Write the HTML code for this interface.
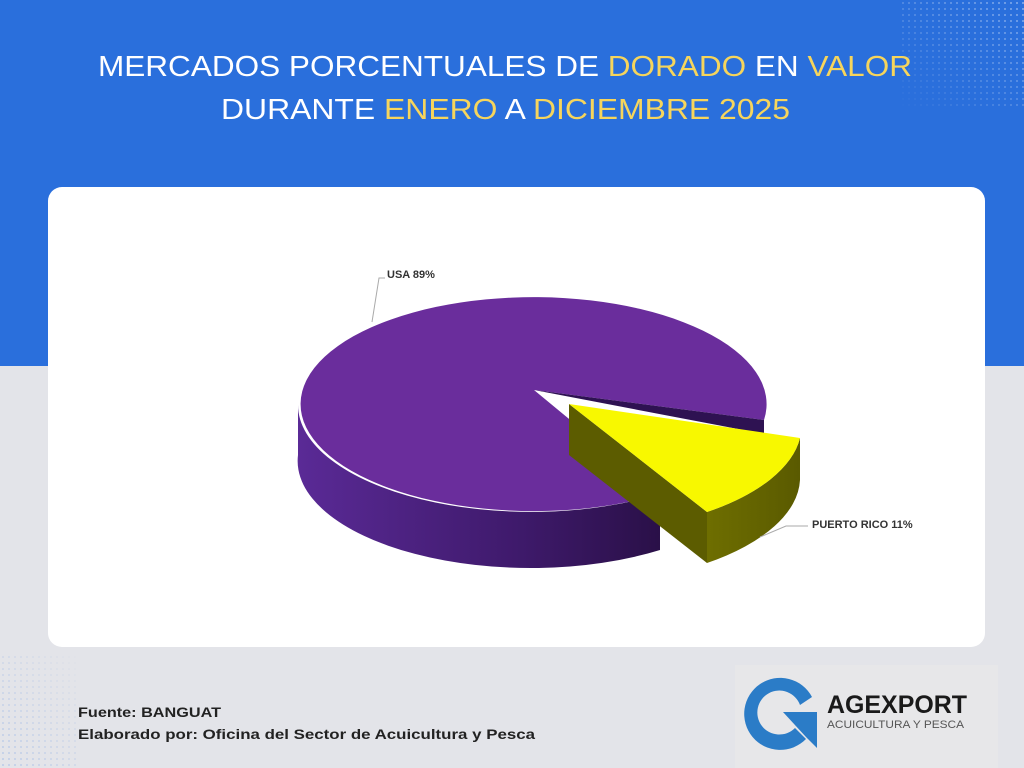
<!DOCTYPE html>
<html><head><meta charset="utf-8"><style>
html,body{margin:0;padding:0;width:1024px;height:768px;overflow:hidden}
svg{display:block}
text{font-family:"Liberation Sans",sans-serif}
</style></head><body>
<svg width="1024" height="768" viewBox="0 0 1024 768" xmlns="http://www.w3.org/2000/svg">
<defs>
<linearGradient id="side" x1="0" x2="1" y1="0" y2="0">
<stop offset="0" stop-color="#5a2a96"/><stop offset="0.6" stop-color="#3f1a6c"/><stop offset="1" stop-color="#2a1048"/>
</linearGradient>
<linearGradient id="yside" x1="0" x2="1"><stop offset="0" stop-color="#6e6e00"/><stop offset="1" stop-color="#5a5a00"/></linearGradient>
<pattern id="dots" width="6" height="6" patternUnits="userSpaceOnUse"><circle cx="3" cy="3" r="1" fill="#ffffff" opacity="0.45"/></pattern>
<pattern id="dots2" width="6" height="6" patternUnits="userSpaceOnUse"><circle cx="3" cy="3" r="1" fill="#8fb0e8" opacity="0.5"/></pattern>
<linearGradient id="fadeTR" x1="1" y1="0" x2="0" y2="1"><stop offset="0" stop-color="#fff"/><stop offset="1" stop-color="#fff" stop-opacity="0"/></linearGradient>
<mask id="mTR"><rect x="900" y="0" width="124" height="110" fill="url(#fadeTR)"/></mask>
<linearGradient id="fadeBL" x1="0" y1="1" x2="1" y2="0"><stop offset="0" stop-color="#fff"/><stop offset="1" stop-color="#fff" stop-opacity="0"/></linearGradient>
<mask id="mBL"><rect x="0" y="655" width="80" height="113" fill="url(#fadeBL)"/></mask>
</defs>
<rect width="1024" height="768" fill="#e3e4e9"/>
<rect width="1024" height="366" fill="#2a6fdc"/>
<rect x="900" y="0" width="124" height="110" fill="url(#dots)" mask="url(#mTR)"/>
<rect x="0" y="655" width="80" height="113" fill="url(#dots2)" mask="url(#mBL)"/>
<text x="98" y="76" font-size="29" fill="#fff" textLength="814" lengthAdjust="spacingAndGlyphs">MERCADOS PORCENTUALES DE <tspan fill="#f6d55c">DORADO</tspan> EN <tspan fill="#f6d55c">VALOR</tspan></text>
<text x="221" y="119" font-size="29" fill="#fff" textLength="569" lengthAdjust="spacingAndGlyphs">DURANTE <tspan fill="#f6d55c">ENERO</tspan> A <tspan fill="#f6d55c">DICIEMBRE 2025</tspan></text>
<rect x="48" y="187" width="937" height="460" rx="14" fill="#fff"/>
<path d="M298,405 A233,107 0 0 0 660,494 L660,550 A233,107 0 0 1 298,455 Z" fill="url(#side)"/>
<path d="M534,390 L660,494 A233,107 0 1 1 764,420 Z" fill="#6a2d9c"/>
<path d="M534,390 L764,420 L764,434 Z" fill="#2e1252"/>
<path d="M569,404 L707,512 L707,563 L569,455 Z" fill="#5c5c00"/>
<path d="M800,438 A233,107 0 0 1 707,512 L707,563 A233,107 0 0 0 800,480 Z" fill="url(#yside)"/>
<path d="M569,404 L800,438 A233,107 0 0 1 707,512 Z" fill="#f8f800"/>
<polyline points="385,278 379,278 372,322" fill="none" stroke="#aaa" stroke-width="1"/>
<text x="387" y="278" font-size="11" font-weight="bold" fill="#333">USA 89%</text>
<polyline points="760,537 786,526 808,526" fill="none" stroke="#aaa" stroke-width="1"/>
<text x="812" y="528" font-size="11" font-weight="bold" fill="#333">PUERTO RICO 11%</text>
<text x="78" y="717" font-size="14" font-weight="bold" fill="#222" textLength="143" lengthAdjust="spacingAndGlyphs">Fuente: BANGUAT</text>
<text x="78" y="739" font-size="14" font-weight="bold" fill="#222" textLength="457" lengthAdjust="spacingAndGlyphs">Elaborado por: Oficina del Sector de Acuicultura y Pesca</text>
<rect x="735" y="665" width="263" height="103" fill="#e7e7e9"/>
<path d="M812,697 A36,36 0 1 0 806,739 L795,728 A22,22 0 1 1 800,705 Z" fill="#2b7cc7"/>
<path d="M783,712 L817,712 L817,748 L806,737 Z" fill="#2b7cc7"/>
<text x="827" y="713" font-size="25" font-weight="bold" fill="#1a1a1a" textLength="140" lengthAdjust="spacingAndGlyphs">AGEXPORT</text>
<text x="827" y="728" font-size="11" fill="#555" textLength="137" lengthAdjust="spacingAndGlyphs">ACUICULTURA Y PESCA</text>
</svg>
</body></html>
